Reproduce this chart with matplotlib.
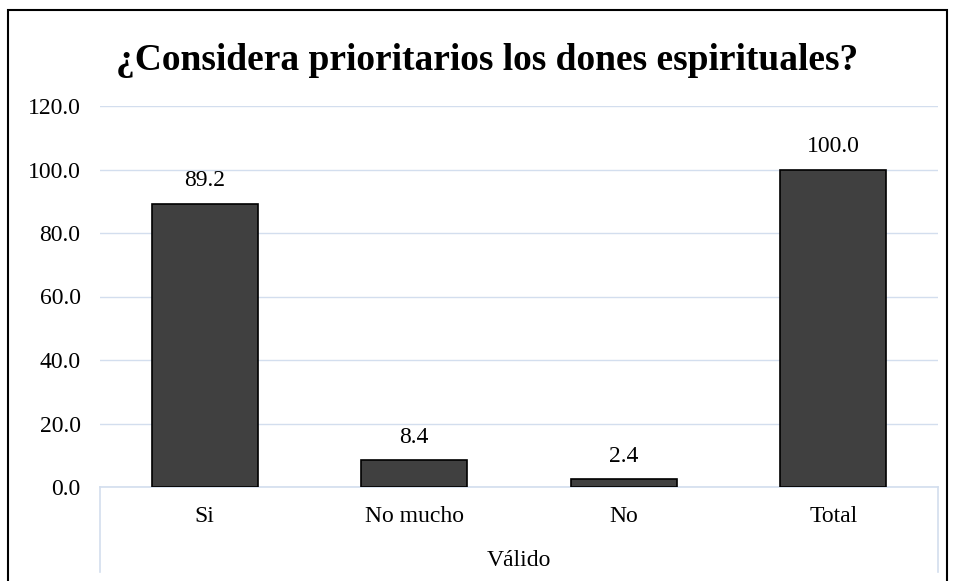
import matplotlib.pyplot as plt
from matplotlib.patches import Rectangle
from matplotlib.lines import Line2D

categories = ['Si', 'No mucho', 'No', 'Total']
values = [89.2, 8.4, 2.4, 100.0]
group_label = 'Válido'
title = '¿Considera prioritarios los dones espirituales?'
y_ticks = [0, 20, 40, 60, 80, 100, 120]

plt.rcParams['font.family'] = ['Liberation Serif', 'DejaVu Serif']

grid_color = '#D3DEEE'
bar_color = '#404040'
fs = 17

fig = plt.figure(figsize=(9.55, 5.81), dpi=100)
ax = fig.add_axes([100 / 955, 1 - 487 / 581, 838 / 955, 381 / 581])

x = range(len(categories))
bars = ax.bar(x, values, width=0.505, color=bar_color, edgecolor='black', linewidth=1.2, zorder=3)
for xi, v in zip(x, values):
    ax.text(xi, v + 7.2, f'{v:.1f}', ha='center', va='center', fontsize=fs, zorder=4)

ax.set_xlim(-0.5, len(categories) - 0.5)
ax.set_ylim(0, 120)
ax.set_yticks(y_ticks)
ax.set_yticklabels([f'{t:.1f}' for t in y_ticks], fontsize=fs)
ax.tick_params(axis='y', length=0, pad=14)
ax.set_xticks([])
ax.grid(axis='y', color=grid_color, linewidth=1, zorder=0)
for side in ['top', 'right', 'left']:
    ax.spines[side].set_visible(False)
ax.spines['bottom'].set_color(grid_color)
ax.spines['bottom'].set_linewidth(1.2)

# category labels and group box below the axis
for xi, c in zip(x, categories):
    ax.text(xi, -29 / 381, c, transform=ax.get_xaxis_transform(), ha='center', va='center', fontsize=fs)
ax.text((len(categories) - 1) / 2, -73 / 381, group_label, transform=ax.get_xaxis_transform(),
        ha='center', va='center', fontsize=fs)
for xe in [-0.5, len(categories) - 0.5]:
    ax.add_line(Line2D([xe, xe], [0, -85 / 381], transform=ax.get_xaxis_transform(),
                       color=grid_color, linewidth=1.2, clip_on=False))

fig.text(487 / 955, 1 - 60 / 581, title, ha='center', va='center', fontsize=27, fontweight='bold')

# outer chart border
fig.patches.append(Rectangle((8 / 955, -0.05), 939 / 955, 1 - 10 / 581 + 0.05, transform=fig.transFigure,
                             fill=False, edgecolor='black', linewidth=1.5))

fig.savefig('out.png', dpi=100)
